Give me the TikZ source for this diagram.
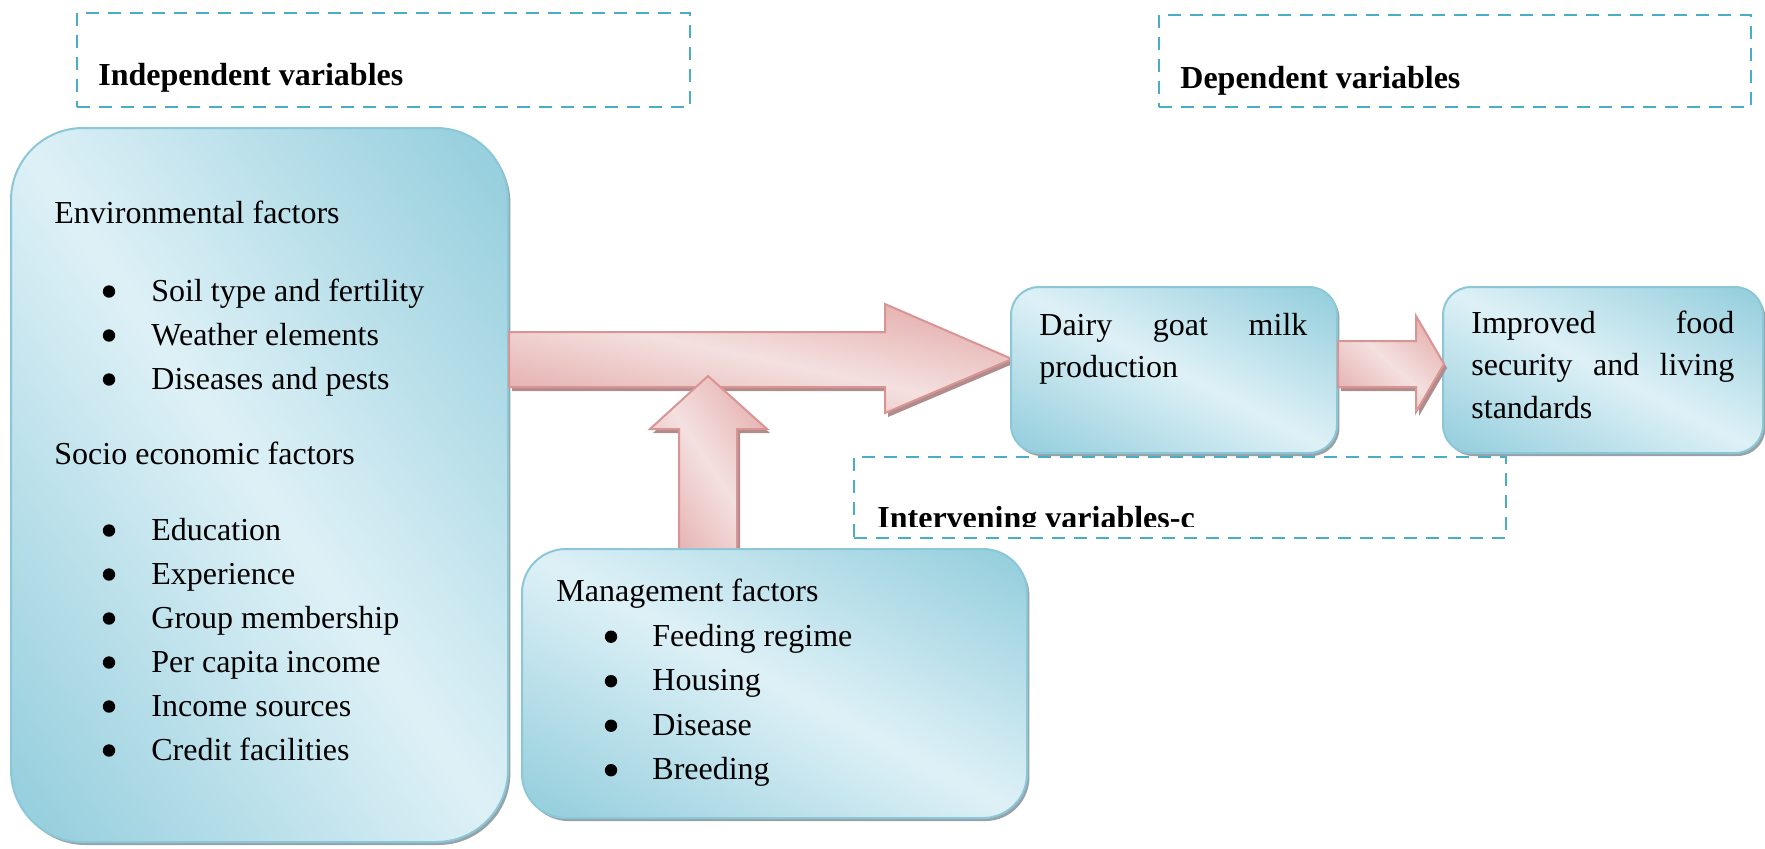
\documentclass[tikz,border=0pt]{standalone}
\usepackage{fontspec}
\setmainfont{Liberation Serif}
\usetikzlibrary{shadows}
\definecolor{bborder}{RGB}{140,199,216}
\definecolor{pborder}{RGB}{217,149,148}
\definecolor{dashc}{RGB}{75,172,198}
\definecolor{bshadow}{RGB}{150,162,168}
\definecolor{pshadow}{RGB}{176,140,140}
% diagonal gradients: dark at top-right and bottom-left corners, light along the other diagonal
\pgfdeclarefunctionalshading{bluediag}{\pgfpoint{-50bp}{-50bp}}{\pgfpoint{50bp}{50bp}}{}{
  add 50 div abs dup 1 sub abs neg add 1 add 2 div
  dup dup -0.300 mul 0.870 add 3 1 roll -0.140 mul 0.943 add exch -0.105 mul 0.967 add }
\pgfdeclarefunctionalshading{pinkdiag}{\pgfpoint{-50bp}{-50bp}}{\pgfpoint{50bp}{50bp}}{}{
  add 50 div abs dup 1 sub abs neg add 1 add 2 div
  dup dup -0.070 mul 0.955 add 3 1 roll -0.235 mul 0.880 add exch -0.235 mul 0.876 add }
\tikzset{
 bluebox/.style={draw=bborder, line width=1pt, shading=bluediag, inner sep=0pt,
   drop shadow={shadow xshift=1.2pt, shadow yshift=-1.5pt, fill=bshadow, opacity=1}},
 pinkarrow/.style={draw=pborder, line width=1pt, shading=pinkdiag,
   drop shadow={shadow xshift=1.5pt, shadow yshift=-2pt, fill=pshadow, opacity=1}},
 dashbox/.style={draw=dashc, dash pattern=on 6.5pt off 4.5pt, line width=1pt, inner sep=0pt},
 txt/.style={inner sep=0pt, anchor=base west, font=\fontsize{16}{21.25}\selectfont},
 title/.style={inner sep=0pt, anchor=base west, font=\fontsize{16}{21.25}\selectfont\bfseries},
 bul/.style={circle, fill=black, inner sep=0pt, minimum size=6.2pt},
}
\begin{document}
\begin{tikzpicture}[x=0.5pt,y=-0.5pt]
\useasboundingbox (0,0) rectangle (1765,848);

% left box
\node[bluebox, rounded corners=36pt, minimum width=248.5pt, minimum height=357pt] (indep) at (259.5,485) {};

% main arrow
\coordinate (mtip) at (1012,359);
\draw[pinkarrow] (indep.east |- 0,332) -- (885,332) -- (885,304) -- (mtip) -- (885,413) -- (885,387) -- (indep.east |- 0,387) -- cycle;

% up arrow
\coordinate (utip) at (708,376);
\draw[pinkarrow] (679,552) -- (679,429) -- (650,429) -- (utip) -- (767,429) -- (737,429) -- (737,552) -- cycle;

% management box
\node[bluebox, rounded corners=22pt, minimum width=252.5pt, minimum height=134.5pt] (mgmt) at (774.5,683.5) {};

% dairy and improved boxes
\node[bluebox, rounded corners=14pt, minimum width=163pt, minimum height=83pt] (dairy) at (1174,370) {};
\node[bluebox, rounded corners=14pt, minimum width=160pt, minimum height=83pt] (impr) at (1603,370) {};

% small arrow
\coordinate (stip) at (1444,364);
\draw[pinkarrow] (dairy.east |- 0,341) -- (1416,341) -- (1416,316) -- (stip) -- (1416,412) -- (1416,387) -- (dairy.east |- 0,387) -- cycle;

% dashed boxes
\node[dashbox, minimum width=306.5pt, minimum height=47pt] (indbox) at (383.5,60) {};
\node[dashbox, minimum width=296pt, minimum height=46pt] (depbox) at (1455,61) {};
\node[dashbox, minimum width=326pt, minimum height=40.5pt] (intbox) at (1180,497.5) {};

% titles
\node[title] (indt) at (98,85) {Independent variables};
\node[title] (dept) at (1180,88) {Dependent variables};
\begin{scope}
\clip (854,456) rectangle (1506,526);
\node[title] (intt) at (877,528) {Intervening variables-c};
\end{scope}

% left box text
\node[txt] (env) at (54,223) {Environmental factors};
\foreach \t [count=\i] in {Soil type and fertility, Weather elements, Diseases and pests}{
  \node[bul] (eb\i) at (109,247.5+44*\i) {};
  \node[txt] (e\i) at (151,257+44*\i) {\t};
}
\node[txt] (soc) at (54,464) {Socio economic factors};
\foreach \t [count=\i] in {Education, Experience, Group membership, Per capita income, Income sources, Credit facilities}{
  \node[bul] (sb\i) at (109,486.5+44*\i) {};
  \node[txt] (s\i) at (151,496+44*\i) {\t};
}

% management text
\node[txt] (mgt) at (556,601) {Management factors};
\foreach \t [count=\i] in {Feeding regime, Housing, Disease, Breeding}{
  \node[bul] (mb\i) at (611,592.2+44.5*\i) {};
  \node[txt] (m\i) at (652,601.5+44.5*\i) {\t};
}

% dairy and improved text
\node[txt] (dairyt) at (1039,335) {\parbox[t]{134pt}{\tolerance=10000\hbadness=10000\hyphenpenalty=10000 Dairy goat milk\linebreak production}};
\node[txt] (imprt) at (1471,333) {\parbox[t]{131.5pt}{\tolerance=10000\hbadness=10000\hyphenpenalty=10000 Improved food\linebreak security and living\linebreak standards}};
\end{tikzpicture}
\end{document}
